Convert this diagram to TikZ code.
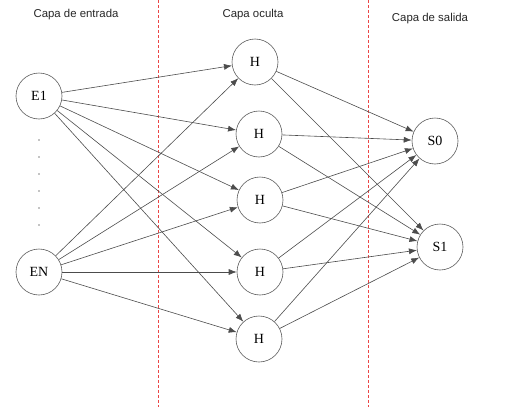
\documentclass[tikz,border=0pt]{standalone}
\usepackage{fontspec}
\setmainfont{Liberation Serif}
\setsansfont{Liberation Sans}
\usepackage{tikz}
\usetikzlibrary{positioning}
\usetikzlibrary{arrows.meta}
\definecolor{dividerred}{RGB}{235,70,70}

\tikzset{
    neuron/.style={circle, draw=black!65, line width=0.6pt, minimum size=46pt, inner sep=0pt, font=\fontsize{14}{16}\selectfont},
    layertitle/.style={font=\sffamily\fontsize{11.4}{13}\selectfont, text=black!85},
    weight/.style={draw=black!70, line width=0.6pt, -{Latex[length=8pt, width=6pt]}},
    divider/.style={draw=dividerred, line width=0.6pt, dash pattern=on 3pt off 2pt}
}

\begin{document}
\begin{tikzpicture}[x=1pt, y=-1pt]
    \useasboundingbox (0,0) rectangle (512,407);
    % layer titles
    \path
        node (tin)  [layertitle] at (76,15)  { Capa de entrada }
        node (thid) [layertitle] at (253,15) { Capa oculta }
        node (tout) [layertitle] at (430,19) { Capa de salida };
    % dividers
    \draw[divider] (158,0) -- (158,407);
    \draw[divider] (368,0) -- (368,407);
    % input layer
    \path
        node (e1) [neuron] at (39,96)  { E1 }
        node (en) [neuron] at (39,272) { EN };
    \foreach \y in {140,157,174,191,208,225}
        \fill (39,\y) circle (0.7pt);
    % hidden layer
    \path
        node (h1) [neuron] at (255,62)  { H }
        node (h2) [neuron] at (259,134) { H }
        node (h3) [neuron] at (260,200) { H }
        node (h4) [neuron] at (260,272) { H }
        node (h5) [neuron] at (259,339) { H };
    % output layer
    \path
        node (s0) [neuron] at (435,141) { S0 }
        node (s1) [neuron] at (440,247) { S1 };
    % connections
    \foreach \h in {h1,h2,h3,h4,h5} {
        \draw[weight] (e1) -- (\h);
        \draw[weight] (en) -- (\h);
        \draw[weight] (\h) -- (s0);
        \draw[weight] (\h) -- (s1);
    }
\end{tikzpicture}
\end{document}
